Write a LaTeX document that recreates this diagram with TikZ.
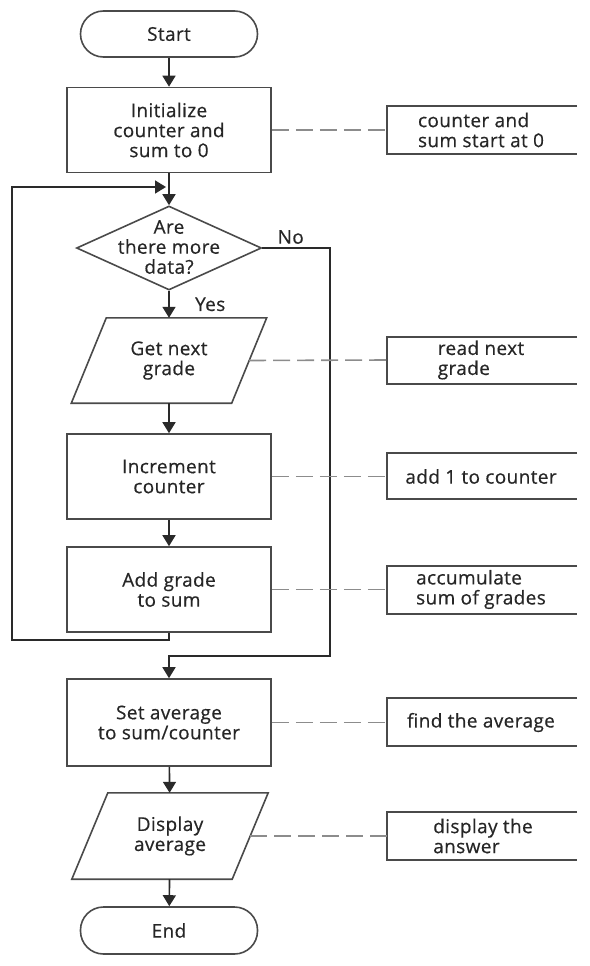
\documentclass[tikz,border=0pt]{standalone}
\usepackage{fontspec}
\setmainfont{Open Sans}[FakeBold=0.5,LetterSpace=2]
\usetikzlibrary{arrows.meta,shapes.geometric}
\definecolor{boxline}{HTML}{4A4A4A}
\definecolor{txt}{HTML}{262626}
\definecolor{dashc}{HTML}{8C8C8C}
\definecolor{conn}{HTML}{2A2A2A}
\begin{document}
\begin{tikzpicture}[x=1pt,y=-1pt,
  every node/.style={font=\fontsize{19}{20}\selectfont, text=txt},
  proc/.style={draw=boxline, line width=1.6pt, minimum width=204pt, minimum height=85pt, align=center, inner sep=0pt},
  term/.style={draw=boxline, line width=1.6pt, rounded corners=23pt, minimum width=177pt, minimum height=46pt, inner sep=0pt},
  io/.style={minimum width=160pt, minimum height=85pt, align=center, inner sep=0pt},
  notetext/.style={align=left, anchor=center},
  flow/.style={draw=conn, line width=1.6pt, -{Triangle[length=11pt,width=13pt]}},
  link/.style={draw=boxline, line width=1.6pt},
  noteline/.style={draw=dashc, line width=1.6pt, dash pattern=on 17pt off 7pt},
]
\useasboundingbox (0,0) rectangle (589,966);

% main flow nodes
\node[term] (start) at (169,34) {Start};
\node[proc] (init) at (169,130) {Initialize\\counter and\\sum to 0};
\node[diamond, draw=boxline, line width=1.6pt, minimum width=185pt, minimum height=84pt, inner sep=0pt] (dec) at (169,248) {};
\node[align=center] (dect) at (169,247) {Are\\there more\\data?};
\node[io] (gng) at (169,360.5) {Get next\\grade};
\draw[link] ([xshift=17.5pt]gng.north west) -- ([xshift=17.5pt]gng.north east) -- ([xshift=-17.5pt]gng.south east) -- ([xshift=-17.5pt]gng.south west) -- cycle;
\node[proc] (inc) at (169,476.5) {Increment\\counter};
\node[proc] (addg) at (169,589.5) {Add grade\\to sum};
\node[proc, minimum height=87pt] (setavg) at (169,722.5) {Set average\\to sum/counter};
\node[io, minimum height=86pt] (disp) at (170,836) {Display\\average};
\draw[link] ([xshift=18pt]disp.north west) -- ([xshift=18pt]disp.north east) -- ([xshift=-18pt]disp.south east) -- ([xshift=-18pt]disp.south west) -- cycle;
\node[term, minimum height=47pt] (end) at (169,930.5) {End};

% connectors
\coordinate (nocorner) at (330,248);
\coordinate (nojoin) at (330,656);
\coordinate (lb) at (12,640);
\coordinate (lt) at (12,187);
\coordinate (loopin) at (166,187);

\draw[flow] (start) -- (init);
\draw[flow] (init) -- (dec);
\draw[flow] (dec) -- node[pos=0.5, right=22pt]{Yes} (gng);
\draw[flow] (gng) -- (inc);
\draw[flow] (inc) -- (addg);
\draw[flow] (addg.south) |- (lb) -- (lt) -- (loopin);
\draw[flow] (dec.east) -- node[pos=0.42, above]{No} (nocorner) -- (nojoin) -| (setavg.north);
\draw[flow] (setavg) -- (disp);
\draw[flow] (disp) -- (end);

% notes
\coordinate (n1) at (387,130);
\coordinate (n2) at (387,360);
\coordinate (n3) at (387,476.5);
\coordinate (n4) at (387,589.5);
\coordinate (n5) at (387,722.5);
\coordinate (n6) at (387,836);

\draw[link] (577,106) -- (387,106) -- (387,154) -- (577,154);
\draw[link] (577,337) -- (387,337) -- (387,384) -- (577,384);
\draw[link] (577,453) -- (387,453) -- (387,499) -- (577,499);
\draw[link] (577,566) -- (387,566) -- (387,614) -- (577,614);
\draw[link] (577,698) -- (387,698) -- (387,746) -- (577,746);
\draw[link] (577,812) -- (387,812) -- (387,860) -- (577,860);

\node[notetext] (n1t) at (481,130) {counter and\\sum start at 0};
\node[notetext] (n2t) at (481,360) {read next\\grade};
\node[notetext] (n3t) at (481,476.5) {add 1 to counter};
\node[notetext] (n4t) at (481,589.5) {accumulate\\sum of grades};
\node[notetext] (n5t) at (481,722.5) {find the average};
\node[notetext] (n6t) at (483,836) {display the\\answer};

\draw[noteline] (init.east) -- (n1);
\draw[noteline] (gng.east) -- (n2);
\draw[noteline] (inc.east) -- (n3);
\draw[noteline] (addg.east) -- (n4);
\draw[noteline] (setavg.east) -- (n5);
\draw[noteline] (disp.east) -- (n6);
\end{tikzpicture}
\end{document}
